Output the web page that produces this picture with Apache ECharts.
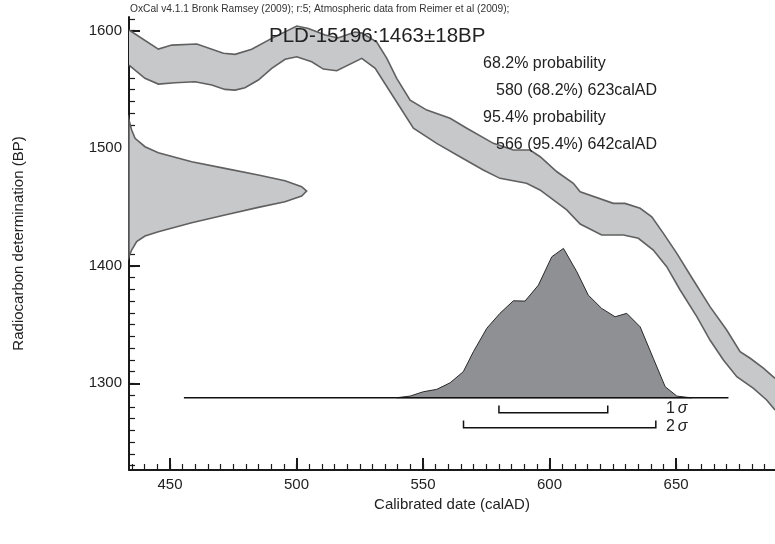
<!DOCTYPE html>
<html>
<head>
<meta charset="utf-8">
<script src="https://cdn.jsdelivr.net/npm/echarts@6/dist/echarts.min.js"></script>
<style>
html,body{margin:0;padding:0;background:#fff;}
#chart{width:775px;height:544px;}
</style>
</head>
<body>
<div id="chart"></div>
<script>
// ---- data ----
const xTickLabels = [450, 500, 550, 600, 650];
const yTickLabels = [1300, 1400, 1500, 1600];

// calibration curve band: upper edge (older BP) and lower edge, [calAD, BP]
const curveUpper = [[433.8,1600.6],[445.4,1584.4],[450.7,1587.8],[460.6,1588.7],[471.1,1580.8],[475.7,1579.9],[482.3,1584.2],[490.2,1593.5],[500.1,1604.0],[504.7,1602.0],[511.3,1596.3],[516.4,1593.8],[523.1,1598.9],[525.9,1598.0],[531.7,1590.4],[535.7,1576.5],[539.6,1559.5],[544.9,1541.0],[551.5,1532.5],[560.7,1525.5],[567.3,1517.0],[577.8,1504.2],[585.7,1498.5],[592.3,1498.5],[596.3,1492.8],[602.9,1480.0],[609.4,1470.2],[612.1,1463.0],[625.2,1453.1],[629.8,1453.1],[635.8,1448.9],[640.4,1441.7],[645.0,1427.6],[650.3,1410.6],[656.8,1387.9],[663.4,1365.2],[670.0,1345.3],[675.3,1326.9],[679.3,1321.3],[684.5,1312.8],[689.1,1304.2]];
const curveLower = [[433.8,1570.8],[440.1,1559.5],[445.4,1554.6],[452.0,1555.8],[459.9,1556.6],[466.5,1553.8],[471.7,1550.1],[475.7,1549.5],[479.6,1551.5],[484.9,1558.1],[490.2,1568.0],[495.5,1575.7],[500.1,1577.9],[506.0,1573.6],[510.6,1567.4],[515.9,1566.0],[525.8,1576.5],[531.1,1568.0],[537.0,1548.1],[546.2,1517.0],[555.4,1504.2],[564.6,1492.8],[573.8,1481.5],[580.4,1474.4],[590.9,1470.2],[596.2,1464.5],[601.5,1456.0],[606.8,1447.5],[612.1,1435.5],[620.6,1426.2],[629.2,1426.2],[635.1,1423.4],[641.0,1413.4],[646.3,1399.2],[651.6,1379.4],[658.2,1356.7],[663.4,1336.8],[668.7,1319.8],[674.0,1305.6],[680.6,1295.7],[685.8,1285.8],[689.1,1277.2]];

// radiocarbon measurement (1463±18BP): [BP, relative density]
const measurement = [[1524.0,0],[1515.5,0.015],[1508.4,0.034],[1501.3,0.09],[1496.2,0.165],[1488.5,0.353],[1482.9,0.54],[1477.2,0.728],[1472.4,0.878],[1467.3,0.972],[1463.6,1.0],[1459.3,0.972],[1454.5,0.878],[1449.7,0.728],[1443.2,0.54],[1436.6,0.353],[1429.0,0.165],[1425.3,0.09],[1420.5,0.043],[1413.4,0.015],[1407.7,0]];

// calibrated probability distribution: [calAD, relative probability]
const calibrated = [[539.6,0],[544.9,0.011],[550.1,0.040],[555.4,0.056],[560.7,0.100],[565.9,0.174],[569.9,0.308],[575.2,0.465],[580.4,0.565],[585.7,0.649],[590.3,0.647],[595.6,0.754],[600.9,0.944],[605.5,1.0],[610.8,0.843],[615.3,0.687],[620.6,0.598],[625.9,0.542],[630.5,0.565],[635.8,0.475],[641.0,0.264],[645.7,0.074],[650.3,0.011],[654.2,0.003],[656.3,0]];

// sigma ranges (calAD)
const sigmaRanges = [[580, 623], [566, 642]];
const sigmaNames = ['1', '2'];
const plotRange = [455.5, 670.7];

// ---- layout constants ----
const xMin = 433.8, xMax = 689.1, yMin = 1226.2, yMax = 1611.7;
const gaussAmp = 70.2;      // years of width for density peak
const distBase = 1287.7, distAmp = 127.1;
const sigmaLevels = [[1275.0, 1281.0], [1262.2, 1268.4]];
const sigmaLabelBP = [1278.8, 1263.1];

const minorX = []; for (let v = 435; v <= 685; v += 5) minorX.push(v);
const minorY = []; for (let v = 1230; v <= 1610; v += 10) minorY.push(v);

const bandFill = '#c7c8ca', bandStroke = '#606060';
const font = "'Liberation Sans', Arial, Helvetica, sans-serif";

function bandRender(params, api) {
  const up = curveUpper.map(p => api.coord(p));
  const lo = curveLower.map(p => api.coord(p));
  const poly = up.concat(lo.slice().reverse());
  return { type: 'group', children: [
    { type: 'polygon', shape: { points: poly }, style: { fill: bandFill, stroke: null } },
    { type: 'polyline', shape: { points: up }, style: { fill: null, stroke: bandStroke, lineWidth: 1.6 } },
    { type: 'polyline', shape: { points: lo }, style: { fill: null, stroke: bandStroke, lineWidth: 1.6 } }
  ]};
}
function gaussRender(params, api) {
  const pts = measurement.map(p => api.coord([xMin + p[1] * gaussAmp, p[0]]));
  return { type: 'polygon', shape: { points: pts }, style: { fill: bandFill, stroke: bandStroke, lineWidth: 1.6 } };
}
function distRender(params, api) {
  const pts = calibrated.map(p => api.coord([p[0], distBase + p[1] * distAmp]));
  const a = api.coord([plotRange[0], distBase]);
  const b = api.coord([plotRange[1], distBase]);
  return { type: 'group', children: [
    { type: 'polygon', shape: { points: pts }, style: { fill: '#8f9094', stroke: '#2a2a2a', lineWidth: 1 } },
    { type: 'line', shape: { x1: a[0], y1: a[1], x2: b[0], y2: b[1] }, style: { stroke: '#111', lineWidth: 1.3 } }
  ]};
}
function sigmaRender(params, api) {
  const children = [];
  sigmaRanges.forEach((r, i) => {
    const lv = sigmaLevels[i];
    const p1 = api.coord([r[0], lv[1]]), p2 = api.coord([r[0], lv[0]]);
    const p3 = api.coord([r[1], lv[0]]), p4 = api.coord([r[1], lv[1]]);
    children.push({ type: 'polyline', shape: { points: [p1, p2, p3, p4] }, style: { fill: null, stroke: '#111', lineWidth: 1.5 } });
    const t = api.coord([sigmaRanges[1][1] + 4, sigmaLabelBP[i]]);
    children.push({ type: 'text', x: t[0], y: t[1], style: {
      text: '{n|' + sigmaNames[i] + '}{s|σ}', verticalAlign: 'middle', align: 'left',
      rich: { n: { fontSize: 16, fontFamily: font, fill: '#222' },
              s: { fontSize: 16, fontFamily: font, fontStyle: 'italic', fill: '#222', padding: [0,0,0,3] } }
    }});
  });
  return { type: 'group', children };
}

const chart = echarts.init(document.getElementById('chart'), null, { renderer: 'canvas' });
const axisColor = '#1a1a1a';
chart.setOption({
  animation: false,
  backgroundColor: '#fff',
  grid: { left: 129, right: 0, top: 17, bottom: 74, containLabel: false },
  xAxis: [
    { type: 'value', min: xMin, max: xMax, position: 'bottom',
      name: 'Calibrated date (calAD)', nameLocation: 'middle', nameGap: 22,
      nameTextStyle: { fontSize: 15, fontFamily: font, color: '#222' },
      axisLine: { show: true, onZero: false, lineStyle: { color: axisColor, width: 2 } },
      axisTick: { show: true, inside: true, length: 6, customValues: minorX, lineStyle: { color: axisColor, width: 1.2 } },
      axisLabel: { show: true, customValues: xTickLabels, fontSize: 15, fontFamily: font, color: '#222', margin: 7, formatter: v => String(v) },
      splitLine: { show: false } },
    { type: 'value', min: xMin, max: xMax, position: 'bottom', offset: 0,
      axisLine: { show: false },
      axisTick: { show: true, inside: true, length: 12, customValues: xTickLabels, lineStyle: { color: axisColor, width: 2 } },
      axisLabel: { show: false }, splitLine: { show: false } }
  ],
  yAxis: [
    { type: 'value', min: yMin, max: yMax, position: 'left',
      name: 'Radiocarbon determination (BP)', nameLocation: 'middle', nameGap: 103,
      nameTextStyle: { fontSize: 15, fontFamily: font, color: '#222' },
      axisLine: { show: true, onZero: false, lineStyle: { color: axisColor, width: 2 } },
      axisTick: { show: true, inside: true, length: 6, customValues: minorY, lineStyle: { color: axisColor, width: 1.2 } },
      axisLabel: { show: true, customValues: yTickLabels, fontSize: 15, fontFamily: font, color: '#222', margin: 7, formatter: v => String(v) },
      splitLine: { show: false } },
    { type: 'value', min: yMin, max: yMax, position: 'left', offset: 0,
      axisLine: { show: false },
      axisTick: { show: true, inside: true, length: 11, customValues: yTickLabels, lineStyle: { color: axisColor, width: 2 } },
      axisLabel: { show: false }, splitLine: { show: false } }
  ],
  series: [
    { type: 'custom', renderItem: bandRender, data: [[500, 1400]], silent: true, z: 1 },
    { type: 'custom', renderItem: gaussRender, data: [[500, 1400]], silent: true, z: 1 },
    { type: 'custom', renderItem: distRender, data: [[500, 1400]], silent: true, z: 2 },
    { type: 'custom', renderItem: sigmaRender, data: [[500, 1400]], silent: true, z: 3 }
  ],
  graphic: { elements: [
    { type: 'text', z: 100, left: 130, top: 4, style: { text: 'OxCal v4.1.1 Bronk Ramsey (2009); r:5; Atmospheric data from Reimer et al (2009);', fontSize: 10.2, fontFamily: font, fill: '#333' } },
    { type: 'text', z: 100, x: 269, y: 36, style: { text: 'PLD-15196:1463\u00b118BP', fontSize: 20.5, fontFamily: font, fill: '#222', verticalAlign: 'middle' } },
    { type: 'text', z: 100, x: 483, y: 64, style: { text: '68.2% probability', fontSize: 16, fontFamily: font, fill: '#222', verticalAlign: 'middle' } },
    { type: 'text', z: 100, x: 496, y: 91, style: { text: '580 (68.2%) 623calAD', fontSize: 16, fontFamily: font, fill: '#222', verticalAlign: 'middle' } },
    { type: 'text', z: 100, x: 483, y: 118, style: { text: '95.4% probability', fontSize: 16, fontFamily: font, fill: '#222', verticalAlign: 'middle' } },
    { type: 'text', z: 100, x: 496, y: 145, style: { text: '566 (95.4%) 642calAD', fontSize: 16, fontFamily: font, fill: '#222', verticalAlign: 'middle' } }
  ]}
});
</script>
</body>
</html>
